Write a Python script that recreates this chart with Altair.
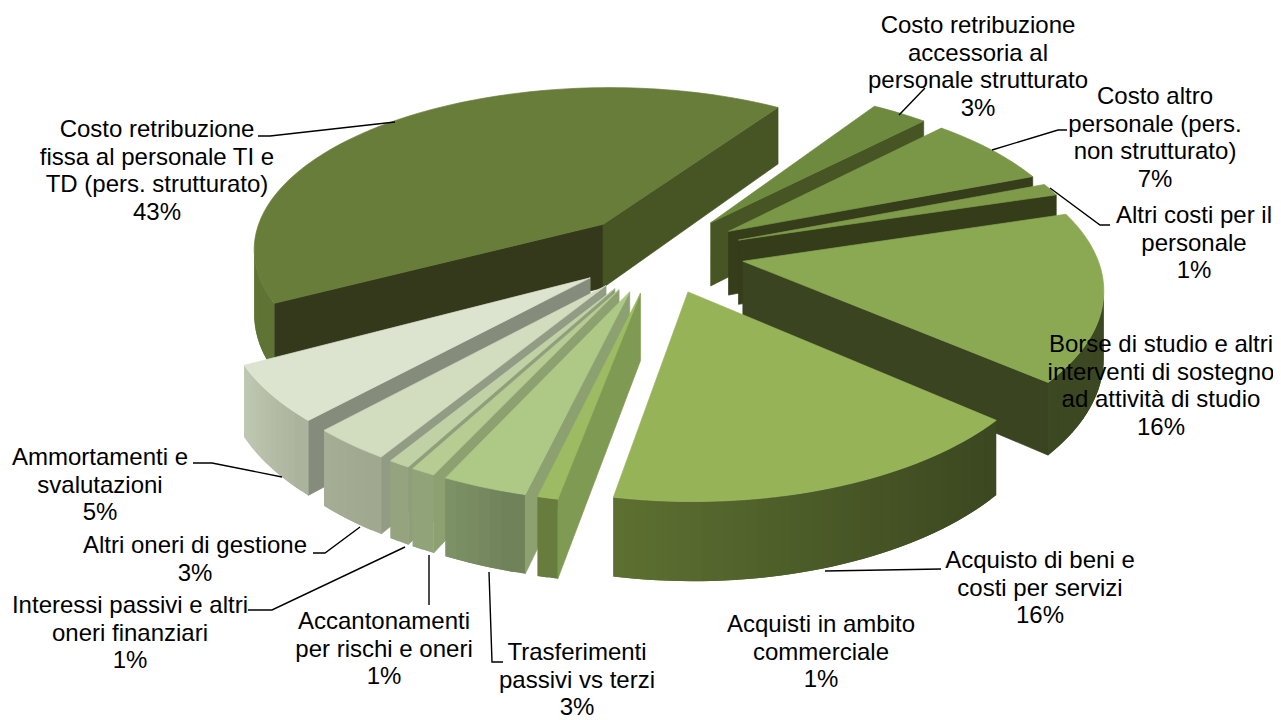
import math
import altair as alt
import pandas as pd

# ---- chart values -------------------------------------------------------
# slice sizes (labels carry the rounded percentages)
shares = [42.0, 3.0, 6.86, 1.19, 16.03, 16.69, 0.78, 3.28, 0.94, 0.83, 3.08, 5.32]
label_lines = [
    "Costo retribuzione\nfissa al personale TI e\nTD (pers. strutturato)\n43%",
    "Costo retribuzione\naccessoria al\npersonale strutturato\n3%",
    "Costo altro\npersonale (pers.\nnon strutturato)\n7%",
    "Altri costi per il\npersonale\n1%",
    "Borse di studio e altri\ninterventi di sostegno\nad attività di studio\n16%",
    "Acquisto di beni e\ncosti per servizi\n16%",
    "Acquisti in ambito\ncommerciale\n1%",
    "Trasferimenti\npassivi vs terzi\n3%",
    "Accantonamenti\nper rischi e oneri\n1%",
    "Interessi passivi e altri\noneri finanziari\n1%",
    "Altri oneri di gestione\n3%",
    "Ammortamenti e\nsvalutazioni\n5%",
]
# ---- styles -------------------------------------------------------------
top_col = ["#687D39", "#6E8A3E", "#7A9747", "#7F9B4A", "#8AA952", "#96B357",
           "#9DBB62", "#AEC885", "#B6CC93", "#C0D2A5", "#D2DCBE", "#DCE4CF"]
wall_l = ["#5F7434", "#4B5E2A", "#343C1A", "#343C1A", "#3C4822", "#5E7232",
          "#687D3D", "#81956A", "#98A97F", "#9BAA85", "#A6B095", "#C0C9B2"]
wall_r = ["#5F7434", "#475424", "#353D1B", "#343C1A", "#3C4822", "#3C4820",
          "#687D3D", "#6E8058", "#8FA176", "#93A27D", "#9FA88E", "#AAB29C"]
start_face = ["#33391A", "#4B5E2A", "#343C1A", "#343C1A", "#3A4420", "#3A4420",
              "#7F9A52", "#8DA070", "#8DA070", "#909F7A", "#929B84", "#858C7B"]
end_face = ["#475424", "#475424", "#353D1B", "#343C1A", "#3A4420", "#3A4420",
            "#687D3D", "#8DA070", "#8DA070", "#909F7A", "#929B84", "#858C7B"]
# ---- layout -------------------------------------------------------------
CX, CY, R, TILT, KX, KY, EXPLODE, DEPTH, FIRST = 659, 253, 353, 0.468, 0.14, 0.15, 0.241, 65, -118.0
label_x = [157, 978, 1155, 1194, 1161, 1040, 821, 577, 384, 130, 195, 100]
label_y = [130, 26, 97, 216, 345, 561, 625, 653, 622, 606, 546, 458]
LINE_H = 27.7
leaders = [
    [(258, 136), (270, 136), (395, 122)],
    [(899, 115), (925, 88)],
    [(992, 150), (1058, 130), (1067, 130)],
    [(1050, 188), (1100, 225), (1110, 225)],
    [(825, 571), (941, 569)],
    [(489, 572), (492, 662), (503, 662)],
    [(429, 555), (429, 605)],
    [(405, 547), (272, 610), (248, 610)],
    [(360, 527), (325, 553), (313, 553)],
    [(282, 477), (212, 463), (193, 463)],
]
OFF = 8  # page margin


def project(u, v, z=0.0):
    sx = 1 / (1 + KX * v)
    sy = 1 / (1 + KY * v)
    return (CX + R * u * sx - OFF, CY - R * TILT * v * sy + z * sy - OFF)


def mix(a, b, t):
    ca = [int(a[i:i + 2], 16) for i in (1, 3, 5)]
    cb = [int(b[i:i + 2], 16) for i in (1, 3, 5)]
    return "#%02x%02x%02x" % tuple(round(x + (y - x) * t) for x, y in zip(ca, cb))


def signed_area(p):
    return sum(p[i][0] * p[(i + 1) % len(p)][1] - p[(i + 1) % len(p)][0] * p[i][1] for i in range(len(p)))


def feature(pts, fill, sw=0.7):
    ring = [list(p) for p in pts] + [list(pts[0])]
    return {"type": "Feature", "geometry": {"type": "Polygon", "coordinates": [ring]},
            "properties": {"fill": fill, "sw": sw}}


spans = []
a = FIRST
for sh in shares:
    spans.append((a, a + sh * 3.6))
    a += sh * 3.6


def slice_features(i):
    a0, a1 = spans[i]
    m = math.radians((a0 + a1) / 2)
    ax, av = EXPLODE * math.sin(m), EXPLODE * math.cos(m)
    n = max(2, int((a1 - a0) / 1.5))
    rim = []
    for k in range(n + 1):
        t = math.radians(a0 + (a1 - a0) * k / n)
        rim.append((ax + math.sin(t), av + math.cos(t)))
    apex = (ax, av)

    def quad(p, q):
        return [project(*p), project(*q), project(*q, DEPTH), project(*p, DEPTH)]

    out = []
    q = quad(apex, rim[0])
    if signed_area(q) < 0:
        out.append(feature(q, start_face[i]))
    q = quad(rim[-1], apex)
    if signed_area(q) < 0:
        out.append(feature(q, end_face[i]))
    # outer wall: every strip overlaps the following one, so no seams show
    idx = [k for k in range(n) if signed_area(quad(rim[k], rim[k + 1])) < 0]
    if idx:
        xs = [project(*rim[k])[0] for k in idx] + [project(*rim[idx[-1] + 1])[0]]
        lo, hi = min(xs), max(xs)
        for pos, k in enumerate(reversed(idx)):
            nxt = min(k + 2, n)
            w = quad(rim[k], rim[nxt]) if pos else quad(rim[k], rim[k + 1])
            xm = (project(*rim[k])[0] + project(*rim[k + 1])[0]) / 2
            out.append(feature(w, mix(wall_l[i], wall_r[i], (xm - lo) / max(hi - lo, 1)), 0))
    out.append(feature([project(*apex)] + [project(*p) for p in rim], top_col[i]))
    return out


order = sorted(range(len(shares)),
               key=lambda i: -math.cos(math.radians(sum(spans[i]) / 2)))
features = [f for i in order for f in slice_features(i)]

pie = (
    alt.Chart(alt.Data(values=features))
    .mark_geoshape()
    .encode(
        fill=alt.Color("properties.fill:N", scale=None),
        stroke=alt.Color("properties.fill:N", scale=None),
        strokeWidth=alt.StrokeWidth("properties.sw:Q", scale=None),
    )
    .project(type="identity", scale=1, translate=[0, 0])
)

line_rows = [
    {"id": i, "k": k, "px": x - OFF, "py": y - OFF}
    for i, poly in enumerate(leaders)
    for k, (x, y) in enumerate(poly)
]
lines = (
    alt.Chart(pd.DataFrame(line_rows))
    .mark_line(color="black", strokeWidth=1.4)
    .encode(
        x=alt.X("px:Q", scale=None, axis=None),
        y=alt.Y("py:Q", scale=None, axis=None),
        detail="id:N",
        order="k:Q",
    )
)

text_rows = [
    {"t": t, "px": x - OFF, "py": y - OFF}
    for t, x, y in zip(label_lines, label_x, label_y)
]
texts = (
    alt.Chart(pd.DataFrame(text_rows))
    .mark_text(font="Liberation Sans", fontSize=24, color="black", align="center",
               baseline="middle", lineBreak="\n", lineHeight=LINE_H)
    .encode(
        x=alt.X("px:Q", scale=None, axis=None),
        y=alt.Y("py:Q", scale=None, axis=None),
        text="t:N",
    )
)

chart = (
    alt.layer(pie, lines, texts)
    .properties(width=1265, height=716, padding=0, autosize=alt.AutoSizeParams(type="none"))
    .configure_view(stroke=None)
)
chart.save("out.html", embed_options={"renderer": "svg", "actions": False})
